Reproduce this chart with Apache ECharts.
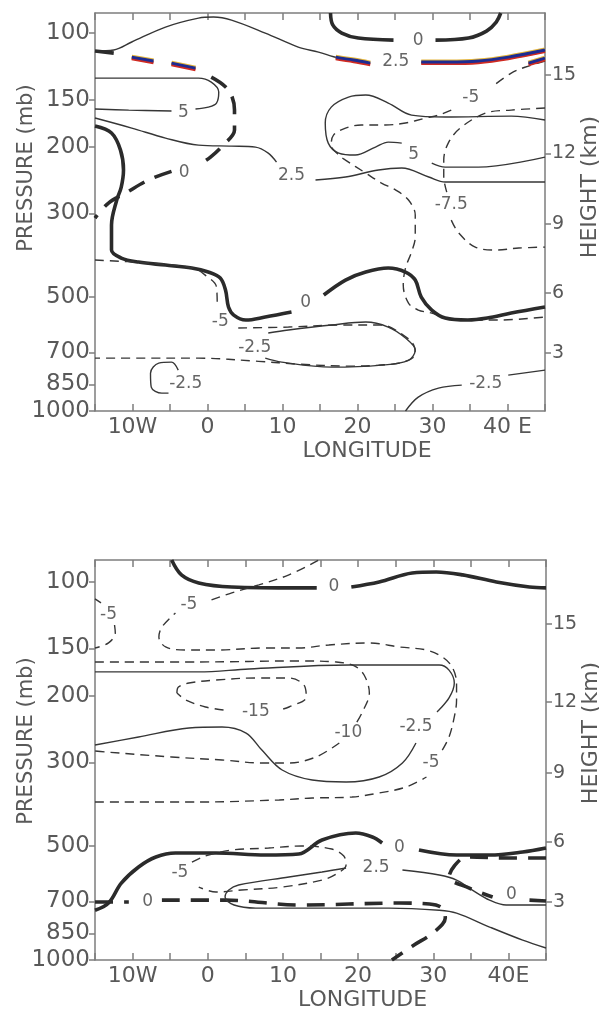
<!DOCTYPE html>
<html><head><meta charset="utf-8">
<script src="https://cdn.jsdelivr.net/npm/echarts@6/dist/echarts.min.js"></script>
<style>html,body{margin:0;padding:0;background:#fff}#c{width:599px;height:1011px}</style>
</head><body><div id="c"></div>
<script>
// ---------- axis ticks ----------
const pressureTicks = [100, 150, 200, 300, 500, 700, 850, 1000];
const heightKm = [3, 6, 9, 12, 15];
const heightP = [702, 488, 320, 208, 129];
const topPressureTop = 88.5;
const botPressureTop = 87.5;

// ---------- TOP PANEL contours: [longitude (deg, W<0), pressure (mb)] ----------
const tArcThin = [[-15,111.6],[-12.5,110.9],[-10.1,105.6],[-5.6,96.4],[-1.2,91.3],[0.8,90.7],[3.2,92.4],[7.7,100],[12.1,108.9],[14.8,112.3],[17.5,116.5],[21.7,120.1],'-',[28.5,119.3],[32.1,119.3],[36.1,118.6],[40.1,115.8],[45,110.9]];
const tColorA = [[17.1,115.8],[19.5,117.9],[21.7,120.1]];
const tColorB = [[28.5,119.3],[32.1,119.3],[36.1,118.6],[40.1,115.8],[45,110.9]];
const tColorDashes = [[-10.1,115.8],[-7.2,118.6],'-',[-4.8,120.1],[-1.6,123.8],'-',[42.8,120.1],[45,116.5]];
const tThickDashStart = [[-15,111.6],[-12.5,113.0]];
const tZeroDashed = [[0.5,130.8],[2.8,141.5],[3.6,159.9],[3.6,180.6],[2.1,197.9],[0.4,212.9],[-1.2,223.5],'-',[-4.8,232.3],[-7.9,244.9],[-10.9,265.1],[-13.2,281.7],[-15,308.7]];
const tZeroTop = [[16.4,88.5],[16.7,95.2],[17.9,100],[20.1,103.1],[24.8,104.4],'-',[30.4,104.4],[34.8,103.1],[37.2,98.8],[38.5,93.5],[39.1,88.5]];
const tFiveLeft = [[-15,131.6],[-7.9,131.6],[-1.2,131.6],[0.5,134.8],[1.5,143.2],[1.2,153.2],[0.1,157.0],[-1.6,158.9],'-',[-4.8,160.8],[-10.5,159.9],[-15,158.9]];
const tTwoFive = [[-15,167.8],[-10.1,178.4],[-5.6,189.6],[-1.2,197.9],[3.2,199.1],[6.4,200.3],[8.1,207.8],[9.2,219.5],'-',[14.4,244.9],[18.4,240.4],[22.8,230.4],[25.9,227.6],[29.5,240.4],[31.7,247.9],[45,247.9]];
const tFiveRight = [[45,169.9],[40.5,165.9],[31.7,166.8],[27.2,164.9],[24.1,153.2],[21.1,145.9],[18.8,147.7],[16.5,157.0],[15.7,173.0],[16.1,195.5],[17.5,207.8],[19.7,210.3],[22.4,200.3],[24.1,194.3],[25.9,195.5],'-',[29.9,220.8],[31.7,226.3],[36.1,226.3],[45,212.9]];
const tMinus5Right = [[45,118.6],[42.4,123.0],[40.5,127.6],[37.9,138.9],'-',[32.5,159.9],[30.8,164.9],[29.1,167.8],[26.4,173.0],[23.7,175.1],[20.5,175.1],[18.4,178.4],[16.8,186.2],[16.5,197.9],[17.5,210.3],[18.4,216.8],[21.1,234.7],[23.2,249.4],[25.1,260.3],[26.8,276.6],[27.7,303.1],[27.7,346.6],[27.2,379.7],[26.4,418.6],[26.1,464.3],[26.8,518.1],[28.1,540.6],[29.9,550.6],[31.7,567.6],[34.4,574.5],[38.8,574.5],[45,564.1]];
const tMinus75 = [[45,157.9],[40.5,159.9],[37.1,162.8],[33.7,178.4],[32.1,195.5],[31.5,216.8],[31.5,240.4],[31.9,263.5],'-',[32.5,312.6],[33.5,338.2],[35.7,368.4],[38.4,375.1],[41.5,370.6],[45,368.4]];
const tZeroMain = [[-15,176.3],[-12.8,183.9],[-11.6,204.0],[-11.2,230.4],[-11.5,255.6],[-12.1,276.6],[-12.8,322.2],[-12.8,375.1],[-11.5,393.8],[-9.2,403.6],[-5.6,411.0],[-2.1,418.6],[0.1,428.9],[1.7,444.9],[2.4,478.6],[2.8,530.8],[3.5,557.4],[5.1,574.5],[7.7,564.1],[11.2,547.2],'-',[15.5,493.4],[18.4,450.4],[21.1,428.9],[24.1,418.6],[26.4,428.9],[27.7,450.4],[28.5,499.4],[29.9,540.6],[31.7,567.6],[34.7,574.5],[37.3,567.6],[40.5,550.6],[45,530.8]];
const tMinus5Low = [[-15,398.7],[-7.9,406.0],[-1.9,418.6],[-0.3,437.0],[1.2,470.0],[1.3,524.4],'-',[4.1,603.3],[10.8,599.6],[17.5,592.4],[23.2,592.4],[26.1,629.6],[27.5,669.0],[27.7,706.9],[26.1,742.5],[22.8,756.3],[18.8,760.9],[12.1,751.7],[6.8,738.9],[-1.2,724.6],[-7.9,724.6],[-15,724.6]];
const tMinus25Bulb = [[8.1,621.9],[10.8,610.6],[16.5,592.4],[21.1,581.6],[24.1,599.6],[26.4,641.2],[27.7,689.9],[26.8,734.3],[23.2,756.3],[16.5,765.6],[9.9,742.5],[7.7,724.6]];
const tMinus25Small = [[-3.9,779.6],[-4.8,742.5],[-6.5,747.1],[-7.6,794.0],[-7.5,864.7],[-6.1,896.9],[-5.2,896.9]];
const tMinus25Low = [[26.4,1000],[28.1,919.1],[30.8,870.0],[33.9,854.2],'-',[40.1,803.7],[45,779.6]];
const tLabelPos = [[28.1,104.4],[25.1,119.3],[35.1,148.6],[-3.2,162.8],[-3.1,233.3],[11.2,239.0],[27.5,210.3],[32.5,285.1],[13.1,518.1],[1.7,581.6],[6.3,681.5],[-2.9,843.9],[37.1,843.9]];
const tLabelText = ['0','2.5','-5','5','0','2.5','5','-7.5','0','-5','-2.5','-2.5','-2.5'];

// ---------- BOTTOM PANEL contours ----------
const bZeroTop = [[-4.8,87.5],[-3.5,95.8],[-1.2,100.6],[3.2,103.1],[12.1,103.7],[14.5,103.7],'-',[19.1,103.1],[22.8,100],[27.2,94.7],[30.4,94.1],[33.9,95.8],[38.4,100],[42.8,103.1],[45,103.7]];
const bMinus5Big = [[-15,382.0],[-1.2,382.0],[9.5,377.3],[13.9,372.9],[19.2,370.6],[22.8,361.7],[26.4,348.7],[29.1,328.1],'-',[31.2,278.4],[32.1,257.1],[32.8,227.6],[33.1,205.3],[33.1,185.1],[32.5,167.8],[31.2,157.9],[29.1,151.4],[25.5,148.6],[21.5,145.0],[16.1,146.8],[12.1,149.5],[7.7,149.5],[1.1,151.4],[-2.9,151.4],[-5.6,148.6],[-6.5,139.8],[-6.1,131.6],[-4.3,120.8],'-',[0.5,111.6],[3.2,106.9],[6.8,101.8],[10.8,95.8],[14.8,87.5]];
const bMinus5Edge = [[-15,110.9],[-14.2,113.6],'-',[-12.4,130.0],[-12.3,136.4],[-13.2,145.0],[-15,149.5]];
const bMinus10 = [[-15,162.8],[-1.2,162.8],[12.1,161.8],[17.1,162.8],[19.5,166.8],[20.8,176.3],[21.5,196.7],[20.5,222.2],[19.6,239.0],'-',[17.5,266.7],[14.4,290.4],[10.8,301.2],[7.2,301.2],[1.9,295.8],[-4.8,290.4],[-13.6,281.7],[-15,280.0]];
const bMinus25 = [[-15,173.0],[-1.2,173.0],[5.5,169.9],[18.8,165.9],[30.8,165.9],[32.1,171.1],[32.8,185.1],[32.1,202.7],[30.5,220.8],'-',[27.7,266.7],[25.9,301.2],[22.8,328.1],[18.4,338.2],[13.9,334.2],[9.9,314.4],[7.2,278.4],[5.1,251.0],[1.9,241.9],[-2.5,243.4],[-9.2,257.1],[-15,270.0]];
const bMinus15 = [[-4.1,196.7],[-3.9,189.6],[-2.5,185.1],[1.1,181.8],[6.4,179.5],[10.8,179.5],[12.8,187.4],[13.1,201.5],[10.8,214.2],[9.5,218.1],'-',[2.1,218.1],[-0.3,214.2],[-2.9,205.3],[-4.1,196.7]];
const bZeroMid = [[-15,738.9],[-13.2,706.9],[-11.5,626.1],[-9.2,567.6],[-6.9,534.1],[-4.3,521.3],[1.1,521.3],[7.7,527.7],[12.1,524.4],[15.2,481.6],[19.7,461.5],[21.9,472.8],[23.2,490.5],'-',[28.1,511.8],[33.1,527.7],[37.5,527.7],[41.9,518.1],[45,505.6]];
const bZeroDashed700 = [[-15,702.5],[-10.5,702.5],'-',[-6.1,694.4],[2.4,694.4],[12.1,715.5],[25.5,706.9],[29.5,711.2],[31.2,729.0],[31.6,774.4],[30.1,843.4],[27.2,919.1],[24.5,1000]];
const bTwoFive = [[45,715.5],[39.7,715.5],[37.5,694.4],[35.2,653.1],[33.1,614.5],[30.8,596.0],[25.9,578.0],'-',[18.4,571.0],[15.2,585.2],[10.8,603.3],[4.1,633.5],[2.8,653.1],[2.3,681.5],[3.5,715.5],[6.4,729.0],[15.2,729.0],[24.1,729.0],[30.8,738.9],[33.1,751.7],[37.5,818.1],[41.9,886.1],[45,929.7]];
const bMinus5Loop = [[-2.1,550.6],[-0.3,530.8],[3.2,511.8],[8.1,505.6],[12.5,499.4],[16.5,508.8],[18.1,530.8],[18.4,560.8],[17.1,592.4],[15.2,614.5],[9.9,641.2],[4.5,653.1],[1.1,661.0],[-1.2,641.2]];
const bZeroDashedRight = [[45,537.3],[40.1,537.3],[34.4,534.1],[32.8,564.1],[32.1,603.3],[34.8,645.3],[37.9,681.5],'-',[42.8,694.4],[45,698.4]];
const bLabelPos = [[16.8,103.1],[-13.2,122.3],[-2.5,115.1],[6.4,220.8],[18.7,251.0],[27.7,241.9],[29.7,301.2],[25.5,505.6],[-3.7,588.8],[22.4,571.0],[-8.0,702.5],[40.4,673.2]];
const bLabelText = ['0','-5','-5','-15','-10','-2.5','-5','0','-5','2.5','0','0'];

// ---------- styles ----------
const FONT = 'DejaVu Sans';
const INK = '#363636';
const TXT = '#595959';
const AX = '#7d7d7d';
const styles = {
  thin: {color: INK, width: 1.4, type: 'solid'},
  thinDash: {color: INK, width: 1.4, type: [9, 6]},
  thick: {color: '#2b2b2b', width: 3.6, type: 'solid'},
  thickDash: {color: '#2b2b2b', width: 3.6, type: [18, 11]},
  colorBase: {color: '#e3b43a', width: 5, type: 'solid'},
  colorTop: {color: '#1d2c92', width: 3, type: 'solid', shadowColor: '#cf2a22', shadowOffsetY: 1.6, shadowBlur: 0}
};
const conv = pt => pt === '-' ? ['-', '-'] : [pt[0], Math.log10(pt[1])];
function mk(data, panel, kind, z) {
  return {type: 'line', xAxisIndex: panel * 2, yAxisIndex: panel * 2, data: data.map(conv),
    showSymbol: false, symbol: 'none', smooth: 0.35, connectNulls: false, silent: true,
    animation: false, lineStyle: styles[kind], z: z || 2};
}
function labels(pos, text, panel) {
  return {type: 'scatter', xAxisIndex: panel * 2, yAxisIndex: panel * 2, symbolSize: 1,
    itemStyle: {color: 'rgba(0,0,0,0)'}, silent: true, animation: false, z: 10,
    data: pos.map((p, i) => ({value: conv(p), name: text[i]})),
    label: {show: true, position: 'inside', formatter: '{b}', color: '#3f3f3f',
      fontFamily: FONT, fontSize: 17}};
}

const series = [
  mk(tArcThin, 0, 'thin'), mk(tThickDashStart, 0, 'thick'), mk(tZeroDashed, 0, 'thickDash'),
  mk(tZeroTop, 0, 'thick'), mk(tFiveLeft, 0, 'thin'), mk(tTwoFive, 0, 'thin'),
  mk(tFiveRight, 0, 'thin'), mk(tMinus5Right, 0, 'thinDash'), mk(tMinus75, 0, 'thinDash'),
  mk(tZeroMain, 0, 'thick'), mk(tMinus5Low, 0, 'thinDash'), mk(tMinus25Bulb, 0, 'thin'),
  mk(tMinus25Small, 0, 'thin'), mk(tMinus25Low, 0, 'thin'),
  mk(tColorA, 0, 'colorBase', 4), mk(tColorB, 0, 'colorBase', 4), mk(tColorDashes, 0, 'colorBase', 4),
  mk(tColorA, 0, 'colorTop', 5), mk(tColorB, 0, 'colorTop', 5), mk(tColorDashes, 0, 'colorTop', 5),
  labels(tLabelPos, tLabelText, 0),
  mk(bZeroTop, 1, 'thick'), mk(bMinus5Big, 1, 'thinDash'), mk(bMinus5Edge, 1, 'thinDash'),
  mk(bMinus10, 1, 'thinDash'), mk(bMinus25, 1, 'thin'), mk(bMinus15, 1, 'thinDash'),
  mk(bZeroMid, 1, 'thick'), mk(bZeroDashed700, 1, 'thickDash'), mk(bTwoFive, 1, 'thin'),
  mk(bMinus5Loop, 1, 'thinDash'), mk(bZeroDashedRight, 1, 'thickDash'),
  labels(bLabelPos, bLabelText, 1)
];

// ---------- axes ----------
const lonLabel = eastText => v => {
  if (v === -10) return '10W';
  if (v === 40) return eastText;
  if (v >= 0 && v < 40 && v % 10 === 0) return String(v);
  return '';
};
function xAx(grid, bottom, eastText, longPad) {
  const a = {type: 'value', gridIndex: grid, position: bottom ? 'bottom' : 'top',
    min: -15, max: 45, interval: 5, splitLine: {show: false},
    axisLine: {show: true, onZero: false, lineStyle: {color: AX, width: 1.5}},
    axisTick: {show: true, inside: true, length: 7, lineStyle: {color: AX, width: 1.5}},
    axisLabel: {show: bottom, margin: 5, color: TXT, fontFamily: FONT, fontSize: 22,
      formatter: lonLabel(eastText), showMinLabel: true, showMaxLabel: true}};
  if (bottom) {
    a.name = 'LONGITUDE'; a.nameLocation = 'middle'; a.nameGap = 29; a.nameMoveOverlap = false;
    a.nameTextStyle = {color: TXT, fontFamily: FONT, fontSize: 22, padding: [0, 0, 0, longPad]};
  }
  return a;
}
const fmtFrom = (vals, labs) => v => {
  for (let i = 0; i < vals.length; i++) if (Math.abs(Math.log10(vals[i]) - v) < 1e-6) return String(labs[i]);
  return '';
};
function yAx(grid, left, pTop, namePad) {
  const vals = left ? pressureTicks : heightP;
  const labs = left ? pressureTicks : heightKm;
  const cv = vals.map(v => Math.log10(v));
  return {type: 'value', gridIndex: grid, position: left ? 'left' : 'right', inverse: true,
    min: Math.log10(pTop), max: 3, splitLine: {show: false},
    axisLine: {show: true, onZero: false, lineStyle: {color: AX, width: 1.5}},
    axisTick: {show: true, inside: false, length: 6, customValues: cv, lineStyle: {color: AX, width: 1.5}},
    axisLabel: {show: true, customValues: cv, margin: left ? 5 : 7, color: TXT, fontFamily: FONT,
      fontSize: left ? 23 : 19, formatter: fmtFrom(vals, labs)},
    name: left ? 'PRESSURE (mb)' : 'HEIGHT (km)', nameLocation: 'middle', nameRotate: 90,
    nameGap: left ? 56 : 33, nameMoveOverlap: false,
    nameTextStyle: {color: TXT, fontFamily: FONT, fontSize: left ? 21 : 22, lineHeight: 24,
      padding: [0, 0, 0, namePad]}};
}

const option = {
  backgroundColor: '#ffffff',
  animation: false,
  grid: [
    {left: 95, top: 13, width: 450, height: 398, containLabel: false, outerBoundsMode: 'none'},
    {left: 95, top: 560, width: 451, height: 400, containLabel: false, outerBoundsMode: 'none'}
  ],
  xAxis: [xAx(0, true, '40 E', 94), xAx(0, false), xAx(1, true, '40E', 84), xAx(1, false)],
  yAxis: [yAx(0, true, topPressureTop, 88), yAx(0, false, topPressureTop, 50),
          yAx(1, true, botPressureTop, 38), yAx(1, false, botPressureTop, 54)],
  series: series
};
const chart = echarts.init(document.getElementById('c'), null, {renderer: 'canvas'});
chart.setOption(option);
</script></body></html>
